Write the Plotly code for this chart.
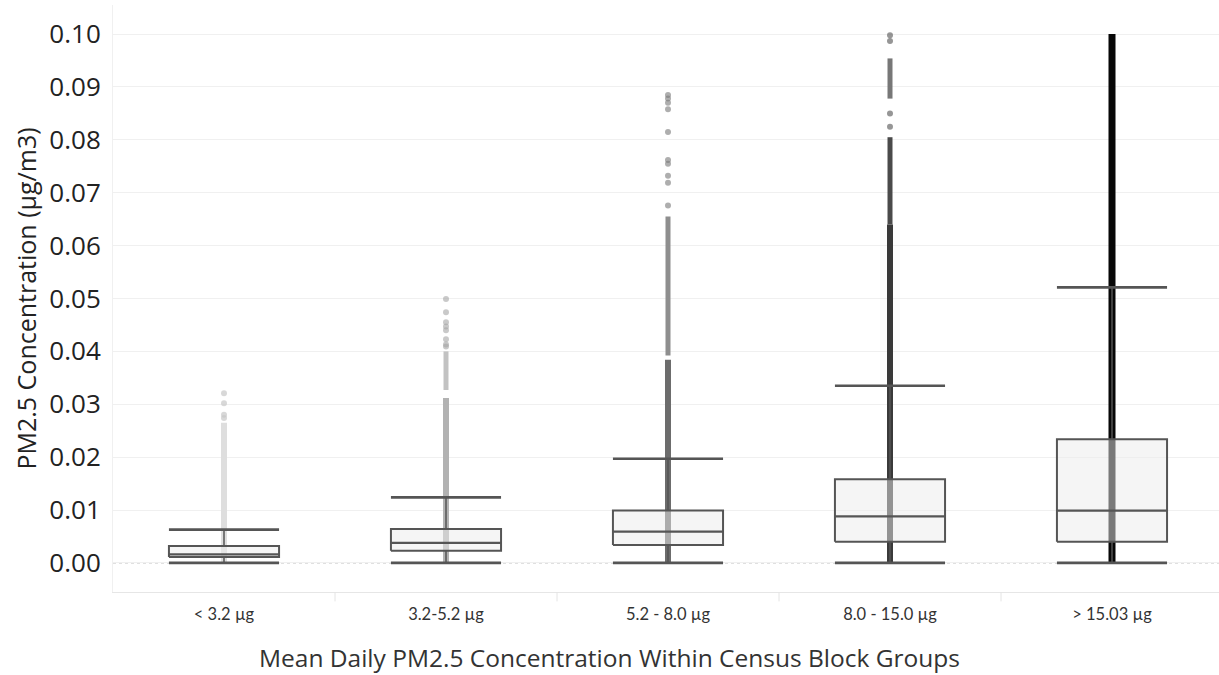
import plotly.graph_objects as go

# Categories of mean daily PM2.5 within census block groups
categories = ["< 3.2 µg", "3.2-5.2 µg", "5.2 - 8.0 µg", "8.0 - 15.0 µg", "> 15.03 µg"]

# Box plot summary per category (µg/m3)
lower_whisker = [0.0, 0.0, 0.0, 0.0, 0.0]
q1 = [0.0011, 0.0023, 0.0034, 0.0040, 0.0040]
median = [0.0016, 0.0038, 0.0059, 0.0088, 0.0099]
q3 = [0.0032, 0.0064, 0.0099, 0.0158, 0.0234]
upper_whisker = [0.0063, 0.0124, 0.0197, 0.0335, 0.0521]

# Continuous runs of overlapping points: [low, high] per category
dense_runs = [
    [[0.0, 0.0265]],
    [[0.0, 0.0312]],
    [[0.0, 0.0384]],
    [[0.0, 0.0640]],
    [[0.0, 0.1000]],
]
# Looser runs of points above the solid column
loose_runs = [
    [],
    [[0.0327, 0.0400]],
    [[0.0392, 0.0655]],
    [[0.0640, 0.0805], [0.0878, 0.0954]],
    [],
]
# Individual high points
outliers = [
    [0.0321, 0.0302, 0.0280, 0.0274],
    [0.0499, 0.0474, 0.0455, 0.0447, 0.0440, 0.0423, 0.0413, 0.0409],
    [0.0885, 0.0878, 0.0870, 0.0858, 0.0815, 0.0762, 0.0755, 0.0732, 0.0719, 0.0676],
    [0.0998, 0.0987, 0.0850, 0.0825],
    [],
]

dense_colors = ["#dedede", "#b2b2b2", "#6c6c6c", "#3a3a3a", "#070707"]
point_colors = ["rgba(200,200,200,0.7)", "rgba(165,165,165,0.6)", "rgba(120,120,120,0.6)",
                "rgba(80,80,80,0.6)", "rgba(0,0,0,0.8)"]
# Colour of each loose run; the upper run of the fourth group is paler
loose_run_colors = [[], ["#c2c2c2"], ["#8e8e8e"], ["#4a4a4a", "#777777"], []]

yticks = [0.0, 0.01, 0.02, 0.03, 0.04, 0.05, 0.06, 0.07, 0.08, 0.09, 0.10]
x_title = "Mean Daily PM2.5 Concentration Within Census Block Groups"
y_title = "PM2.5 Concentration (µg/m3)"

BOX_HALF = 0.248
LINE_COLOR = "#555555"

fig = go.Figure()

# Points, drawn first so the boxes sit on top of them
for i in range(len(categories)):
    for (lo, hi), col in zip(loose_runs[i], loose_run_colors[i]):
        fig.add_trace(go.Scatter(x=[i, i], y=[lo, hi], mode="lines",
                                 line=dict(color=col, width=5),
                                 hoverinfo="skip", showlegend=False))
    for lo, hi in dense_runs[i]:
        fig.add_trace(go.Scatter(x=[i, i], y=[lo, hi], mode="lines",
                                 line=dict(color=dense_colors[i], width=6 if i < 4 else 7),
                                 hoverinfo="skip", showlegend=False))
    if outliers[i]:
        fig.add_trace(go.Scatter(x=[i] * len(outliers[i]), y=outliers[i], mode="markers",
                                 marker=dict(color=point_colors[i], size=6, line=dict(width=0)),
                                 hoverinfo="y", showlegend=False))

# Boxes with a translucent fill
for i in range(len(categories)):
    x0, x1 = i - BOX_HALF, i + BOX_HALF
    fig.add_trace(go.Scatter(
        x=[x0, x1, x1, x0, x0], y=[q1[i], q1[i], q3[i], q3[i], q1[i]],
        mode="lines", fill="toself", fillcolor="rgba(236,236,236,0.5)",
        line=dict(color=LINE_COLOR, width=2), hoverinfo="skip", showlegend=False))

# Whisker stems
stem_x, stem_y = [], []
for i in range(len(categories)):
    stem_x += [i, i, None, i, i, None]
    stem_y += [q3[i], upper_whisker[i], None, q1[i], lower_whisker[i], None]
fig.add_trace(go.Scatter(x=stem_x, y=stem_y, mode="lines",
                         line=dict(color=LINE_COLOR, width=1.5),
                         hoverinfo="skip", showlegend=False))

# Whisker caps and medians
cap_x, cap_y, med_x, med_y = [], [], [], []
for i in range(len(categories)):
    x0, x1 = i - BOX_HALF, i + BOX_HALF
    cap_x += [x0, x1, None, x0, x1, None]
    cap_y += [upper_whisker[i], upper_whisker[i], None, lower_whisker[i], lower_whisker[i], None]
    med_x += [x0, x1, None]
    med_y += [median[i], median[i], None]
fig.add_trace(go.Scatter(x=cap_x, y=cap_y, mode="lines",
                         line=dict(color=LINE_COLOR, width=2.6),
                         hoverinfo="skip", showlegend=False))
fig.add_trace(go.Scatter(x=med_x, y=med_y, mode="lines",
                         line=dict(color=LINE_COLOR, width=2.2),
                         hoverinfo="skip", showlegend=False))

# Dotted zero line and category dividers under the axis
shapes = [dict(type="line", xref="paper", yref="y", x0=0, x1=1, y0=0, y1=0,
               line=dict(color="#b4b4b4", width=1, dash="dot"), layer="below")]
for i in range(len(categories) - 1):
    shapes.append(dict(type="line", xref="x", yref="paper", x0=i + 0.5, x1=i + 0.5,
                       y0=0, y1=-0.016, line=dict(color="#e4e4e4", width=1)))

W, H = 1219, 675
M_L, M_R, M_T, M_B = 113, 0, 5, 83
plot_w = W - M_L - M_R
plot_h = H - M_T - M_B

# X title centred on the whole figure, below the category labels
annotations = [dict(text=x_title, xref="paper", yref="paper",
                    x=(W / 2 - M_L) / plot_w, y=-(657 - (H - M_B)) / plot_h,
                    xanchor="center", yanchor="middle", showarrow=False,
                    font=dict(size=24.5, color="#333333"))]

fig.update_layout(
    width=W, height=H,
    margin=dict(l=M_L, r=M_R, t=M_T, b=M_B),
    paper_bgcolor="white", plot_bgcolor="white",
    font=dict(family="Open Sans, Lato, sans-serif", color="#222222"),
    shapes=shapes,
    annotations=annotations,
    xaxis=dict(
        range=[-0.5, 4.482], tickmode="array",
        tickvals=list(range(len(categories))), ticktext=categories,
        tickfont=dict(family="Lato, Open Sans, sans-serif", size=16.5, color="#333333"),
        ticklabelstandoff=7,
        showgrid=False, zeroline=False, showline=True, linecolor="#e6e6e6", linewidth=1,
        ticks="",
    ),
    yaxis=dict(
        range=[-0.0055, 0.1055], tickmode="array", tickvals=yticks,
        ticktext=[f"{v:.2f}" for v in yticks],
        tickfont=dict(size=26, color="#222222"),
        ticklabelstandoff=6,
        showgrid=True, gridcolor="#f0f0f0", gridwidth=1, zeroline=False,
        showline=True, linecolor="#f0f0f0", linewidth=1, ticks="",
        title=dict(text=y_title, font=dict(size=25, color="#222222"), standoff=5),
    ),
)

fig.write_html("out.html")
